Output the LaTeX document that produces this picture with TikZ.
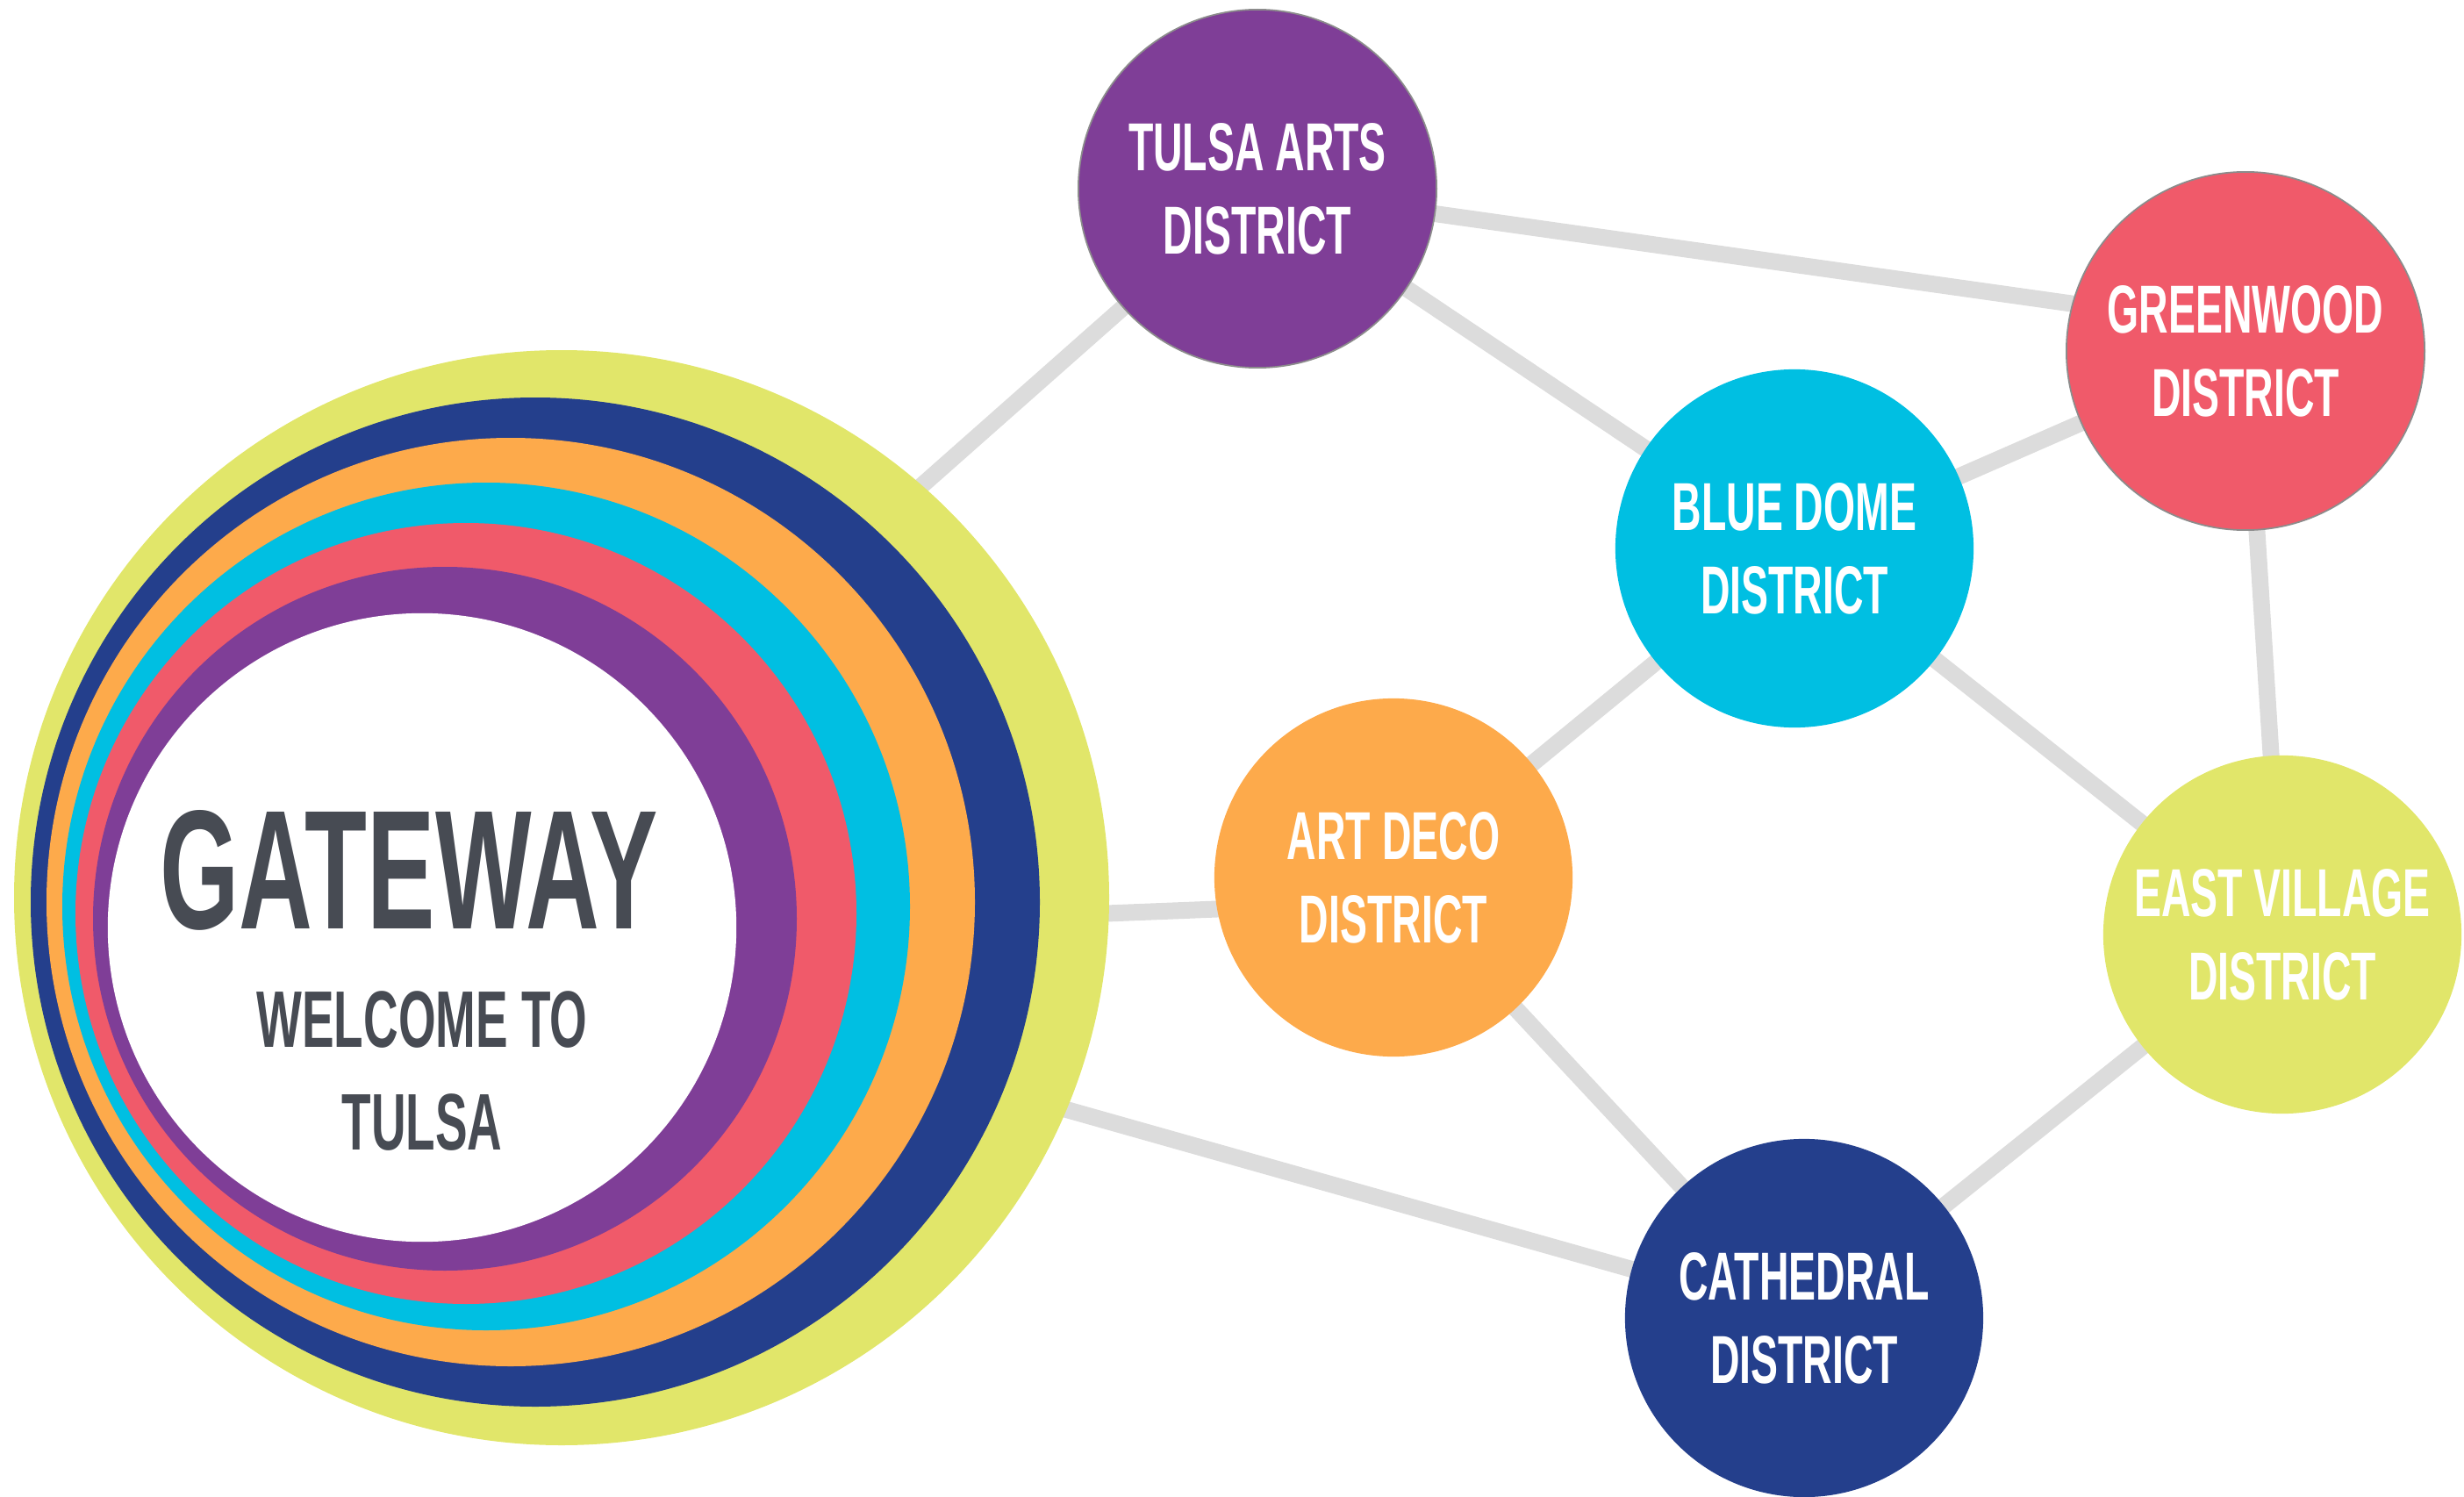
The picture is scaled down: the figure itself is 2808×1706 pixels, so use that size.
\documentclass[tikz,border=0pt]{standalone}
\usepackage{fontspec}
\newfontfamily\bebas[FakeStretch=0.6]{Liberation Sans}
\usetikzlibrary{calc,backgrounds}
\definecolor{limeg}{HTML}{E1E66A}
\definecolor{navyg}{HTML}{243F8C}
\definecolor{orangeg}{HTML}{FDAA4B}
\definecolor{cyang}{HTML}{00BFE2}
\definecolor{coralg}{HTML}{F05A6A}
\definecolor{purpleg}{HTML}{7F3E97}
\definecolor{linkgray}{HTML}{DCDCDC}
\definecolor{slate}{HTML}{474B53}
\tikzset{%
  disc/.style={shape=circle,minimum size=4.08cm,inner sep=0,text=white,align=center,
    font=\bebas\bfseries\fontsize{22}{27}\selectfont},
  rim/.style={draw=black!45,line width=0.5pt},
  link/.style={draw=linkgray,line width=0.19cm},
  hubtext/.style={text=slate,inner sep=0,anchor=base}
}

\begin{document}
\begin{tikzpicture}[x=0.01cm,y=-0.01cm]
  \useasboundingbox (0,0) rectangle (2808,1706);
  % gateway rings
  \fill[limeg] (640,1023) circle[radius=624];
  \fill[navyg] (610,1028) circle[radius=575];
  \fill[orangeg] (582,1028) circle[radius=529];
  \fill[cyang] (554,1033) circle[radius=483];
  \fill[coralg] (531,1041) circle[radius=445];
  \fill[purpleg] (507,1047) circle[radius=401];
  \node[shape=circle,fill=white,minimum size=7.16cm,inner sep=0] (gate) at (481,1057) {};
  \node[hubtext,font=\bebas\bfseries\fontsize{55}{55}\selectfont] (gtitle) at (466,1058) {GATEWAY};
  \node[hubtext,font=\bebas\bfseries\fontsize{26}{26}\selectfont] (gwelcome) at (481,1193) {WELCOME TO};
  \node[hubtext,font=\bebas\bfseries\fontsize{26}{26}\selectfont] (gcity) at (481,1310) {TULSA};
  % districts
  \path
    (1433,215) node[disc,fill=purpleg,rim] (arts) {TULSA ARTS\\DISTRICT}
    (2559,400) node[disc,fill=coralg,rim] (green) {GREENWOOD\\DISTRICT}
    (2045,625) node[disc,fill=cyang] (dome) {BLUE DOME\\DISTRICT}
    (1588,1000) node[disc,fill=orangeg] (deco) {ART DECO\\DISTRICT}
    (2601,1065) node[disc,fill=limeg] (east) {EAST VILLAGE\\DISTRICT}
    (2056,1502) node[disc,fill=navyg] (cath) {CATHEDRAL\\DISTRICT};
  \begin{scope}[on background layer]
    \draw[link] (gate.center) -- (arts.center);
    \draw[link] ($(gate.center)+(0,15)$) -- ($(deco.center)+(0,28)$);
    \draw[link] (gate.center) -- (cath.center);
    \draw[link] (arts.center) -- ($(green.center)+(0,-26)$);
    \draw[link] (arts.center) -- (dome.center);
    \draw[link] (dome.center) -- (green.center);
    \draw[link] (dome.center) -- (deco.center);
    \draw[link] (dome.center) -- (east.center);
    \draw[link] (green.center) -- (east.center);
    \draw[link] (deco.center) -- (cath.center);
    \draw[link] (cath.center) -- (east.center);
  \end{scope}
\end{tikzpicture}
\end{document}
